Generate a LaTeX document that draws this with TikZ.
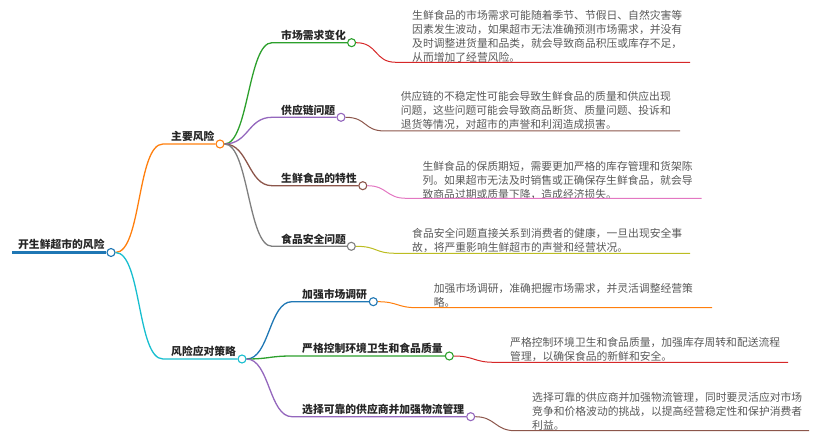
\documentclass[tikz,border=0pt]{standalone}
\usepackage{fontspec}
\newfontfamily\cjk{Noto Sans CJK SC}
\usepackage{xcolor}
\definecolor{tabblue}{HTML}{1F77B4}
\definecolor{taborange}{HTML}{FF7F0E}
\definecolor{tabgreen}{HTML}{2CA02C}
\definecolor{tabred}{HTML}{D62728}
\definecolor{tabpurple}{HTML}{9467BD}
\definecolor{tabbrown}{HTML}{8C564B}
\definecolor{tabpink}{HTML}{E377C2}
\definecolor{tabgray}{HTML}{7F7F7F}
\definecolor{tabolive}{HTML}{BCBD22}
\definecolor{tabcyan}{HTML}{17BECF}

\begin{document}
\begin{tikzpicture}[x=1pt, y=-1pt,
  topic/.style={anchor=base west, inner sep=0pt, text=black!85,
    font=\cjk\bfseries\fontsize{10.8}{13}\selectfont},
  detail/.style={anchor=west, inner sep=0pt, align=left, text=black!65,
    font=\cjk\fontsize{10.8}{14}\selectfont},
  knot/.style={circle, draw=#1, fill=white, line width=1.1pt,
    minimum size=8pt, inner sep=0pt},
  branch/.style={draw=#1, line width=1.3pt},
  leaf/.style={draw=#1, line width=1pt}
]
  \useasboundingbox (0,0) rectangle (820,438);

  % root
  \coordinate (r0) at (12,252.5);
  \node[knot=tabblue] (root) at (111,252.5) {};
  \node[topic] (rootlbl) at (18,249) {开生鲜超市的风险};
  \draw[tabblue, line width=2.5pt] (r0) -- (root);

  % main topics
  \coordinate (h1) at (163,144);
  \coordinate (h2) at (163,359);
  \node[knot=taborange] (m1) at (220,144) {};
  \node[knot=tabcyan] (m2) at (242,359) {};
  \node[topic] (m1lbl) at (171,141) {主要风险};
  \node[topic] (m2lbl) at (171,356) {风险应对策略};
  \draw[branch=taborange] (root.east) .. controls +(26,0) and +(-26,0) .. (h1) -- (m1);
  \draw[branch=tabcyan] (root.east) .. controls +(26,0) and +(-26,0) .. (h2) -- (m2);

  % risks
  \coordinate (h11) at (272,42.7);
  \coordinate (h12) at (272,117.3);
  \coordinate (h13) at (272,185.7);
  \coordinate (h14) at (272,246.3);
  \node[knot=tabgreen] (k11) at (351.6,42.7) {};
  \node[knot=tabpurple] (k12) at (341,117.3) {};
  \node[knot=tabbrown] (k13) at (362.8,185.7) {};
  \node[knot=tabgray] (k14) at (351.3,246.3) {};
  \node[topic] (l11) at (281,39.7) {市场需求变化};
  \node[topic] (l12) at (281,114.3) {供应链问题};
  \node[topic] (l13) at (281,182.7) {生鲜食品的特性};
  \node[topic] (l14) at (281,243.3) {食品安全问题};
  \draw[branch=tabgreen] (m1.east) .. controls +(24,0) and +(-24,0) .. (h11) -- (k11);
  \draw[branch=tabpurple] (m1.east) .. controls +(24,0) and +(-24,0) .. (h12) -- (k12);
  \draw[branch=tabbrown] (m1.east) .. controls +(24,0) and +(-24,0) .. (h13) -- (k13);
  \draw[branch=tabgray] (m1.east) .. controls +(24,0) and +(-24,0) .. (h14) -- (k14);

  % strategies
  \coordinate (h21) at (292,301.7);
  \coordinate (h22) at (292,356);
  \coordinate (h23) at (292,416.7);
  \node[knot=tabblue] (k21) at (373.3,301.7) {};
  \node[knot=tabgreen] (k22) at (449.3,356) {};
  \node[knot=tabpurple] (k23) at (470.7,416.7) {};
  \node[topic] (l21) at (302,298.7) {加强市场调研};
  \node[topic] (l22) at (302,353) {严格控制环境卫生和食品质量};
  \node[topic] (l23) at (302,413.7) {选择可靠的供应商并加强物流管理};
  \draw[branch=tabblue] (m2.east) .. controls +(23,0) and +(-23,0) .. (h21) -- (k21);
  \draw[branch=tabgreen] (m2.east) .. controls +(23,0) and +(-23,0) .. (h22) -- (k22);
  \draw[branch=tabpurple] (m2.east) .. controls +(23,0) and +(-23,0) .. (h23) -- (k23);

  % details
  \node[detail] (d11) at (412,36.6) {生鲜食品的市场需求可能随着季节、节假日、自然灾害等\\因素发生波动，如果超市无法准确预测市场需求，并没有\\及时调整进货量和品类，就会导致商品积压或库存不足，\\从而增加了经营风险。};
  \node[detail] (d12) at (400.6,111) {供应链的不稳定性可能会导致生鲜食品的质量和供应出现\\问题，这些问题可能会导致商品断货、质量问题、投诉和\\退货等情况，对超市的声誉和利润造成损害。};
  \node[detail] (d13) at (422.4,180.4) {生鲜食品的保质期短，需要更加严格的库存管理和货架陈\\列。如果超市无法及时销售或正确保存生鲜食品，就会导\\致商品过期或质量下降，造成经济损失。};
  \node[detail] (d14) at (412,240) {食品安全问题直接关系到消费者的健康，一旦出现安全事\\故，将严重影响生鲜超市的声誉和经营状况。};
  \node[detail] (d21) at (433.6,295.3) {加强市场调研，准确把握市场需求，并灵活调整经营策\\略。};
  \node[detail] (d22) at (510,349.5) {严格控制环境卫生和食品质量，加强库存周转和配送流程\\管理，以确保食品的新鲜和安全。};
  \node[detail] (d23) at (532,411) {选择可靠的供应商并加强物流管理，同时要灵活应对市场\\竞争和价格波动的挑战，以提高经营稳定性和保护消费者\\利益。};

  \coordinate (a11) at (396,62.3);   \coordinate (e11) at (690,62.3);
  \coordinate (a12) at (385,131);    \coordinate (e12) at (680,131);
  \coordinate (a13) at (406,198.3);  \coordinate (e13) at (701.5,198.3);
  \coordinate (a14) at (396,253.3);  \coordinate (e14) at (690,253.3);
  \coordinate (a21) at (417,307.7);  \coordinate (e21) at (712,307.7);
  \coordinate (a22) at (494,362.3);  \coordinate (e22) at (788,362.3);
  \coordinate (a23) at (515,430.7);  \coordinate (e23) at (809,430.7);
  \draw[leaf=tabred] (k11.east) .. controls +(22,0) and +(-22,0) .. (a11) -- (e11);
  \draw[leaf=tabbrown] (k12.east) .. controls +(22,0) and +(-22,0) .. (a12) -- (e12);
  \draw[leaf=tabpink] (k13.east) .. controls +(20,0) and +(-20,0) .. (a13) -- (e13);
  \draw[leaf=tabolive] (k14.east) .. controls +(22,0) and +(-22,0) .. (a14) -- (e14);
  \draw[leaf=taborange] (k21.east) .. controls +(20,0) and +(-20,0) .. (a21) -- (e21);
  \draw[leaf=tabred] (k22.east) .. controls +(20,0) and +(-20,0) .. (a22) -- (e22);
  \draw[leaf=tabbrown] (k23.east) .. controls +(20,0) and +(-20,0) .. (a23) -- (e23);
\end{tikzpicture}
\end{document}
